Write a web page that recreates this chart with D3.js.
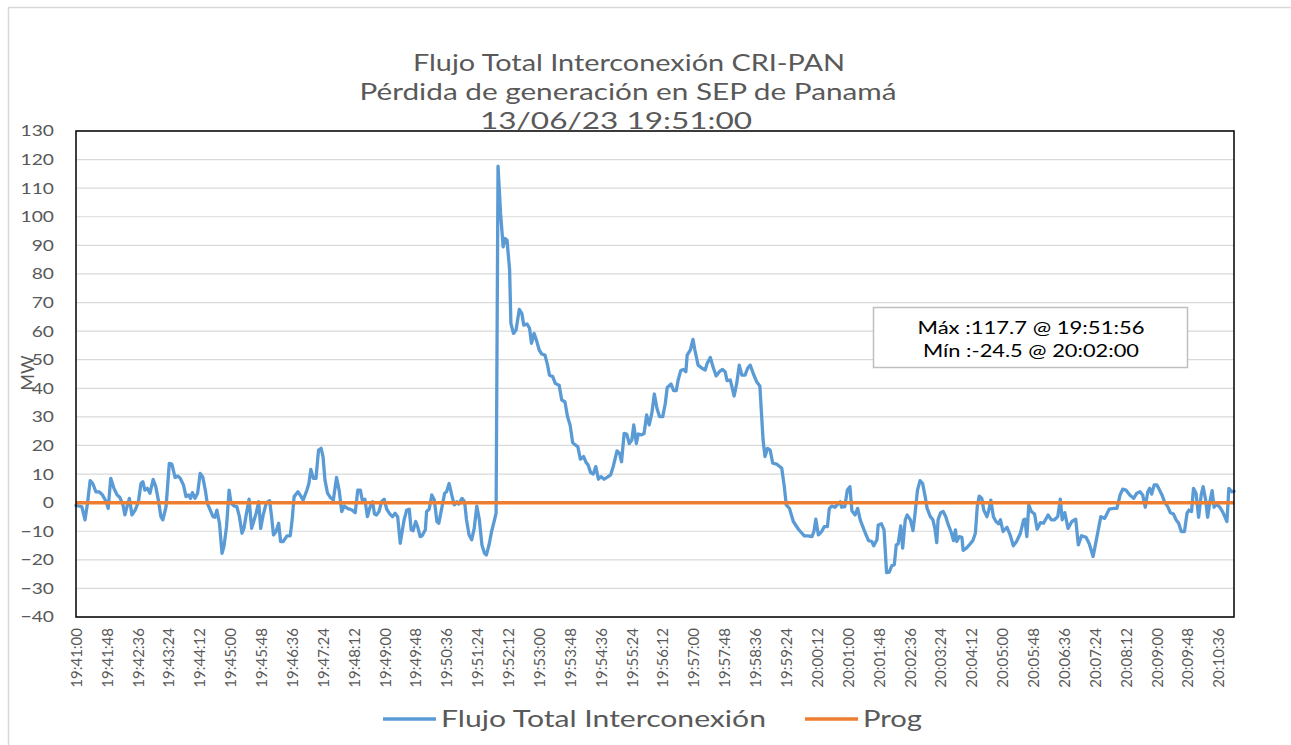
<!DOCTYPE html>
<html>
<head>
<meta charset="utf-8">
<script src="https://cdn.jsdelivr.net/npm/d3@7"></script>
<style>
  body { margin: 0; background: #fff; }
  svg { display: block; }
</style>
</head>
<body>
<div id="chart"></div>
<script>
// segundos transcurridos desde 19:41:00
const segundos = [
  0, 9, 14, 18, 22, 26, 31, 36, 41, 47, 50, 54, 59, 64, 68, 73, 76, 80, 83, 87,
  92, 97, 101, 104, 107, 111, 115, 120, 124, 128, 132, 135, 140, 145, 149, 154, 158, 162, 167, 171,
  175, 178, 181, 185, 189, 193, 197, 201, 204, 208, 213, 216, 219, 223, 227, 230, 234, 238, 241, 246,
  250, 254, 258, 261, 265, 269, 273, 277, 280, 284, 287, 291, 296, 301, 304, 307, 311, 315, 318, 322,
  328, 333, 336, 339, 345, 350, 353, 359, 362, 365, 369, 373, 377, 381, 384, 387, 391, 395, 400, 405,
  409, 413, 417, 422, 429, 434, 438, 442, 445, 449, 453, 457, 461, 464, 467, 471, 475, 479, 483, 488,
  492, 496, 500, 504, 507, 510, 514, 518, 521, 524, 528, 531, 535, 538, 543, 545, 549, 553, 557, 561,
  564, 569, 573, 576, 580, 584, 588, 592, 595, 600, 604, 607, 611, 615, 619, 623, 627, 631, 635, 638,
  642, 646, 650, 653, 656, 660, 664, 667, 670, 674, 676, 680, 684, 689, 693, 696, 701, 705, 708, 712,
  716, 720, 724, 729, 733, 736, 741, 745, 751, 755, 760, 764, 768, 772, 776, 780, 784, 789, 793, 796,
  800, 804, 808, 812, 816, 821, 826, 831, 835, 841, 845, 848, 852, 856, 860, 864, 867, 871, 874, 879,
  883, 887, 891, 895, 899, 903, 907, 912, 916, 919, 925, 929, 933, 936, 940, 944, 948, 950, 955, 959,
  962, 967, 973, 978, 981, 986, 990, 995, 1000, 1005, 1009, 1012, 1017, 1019, 1023, 1027, 1031, 1035, 1040, 1044,
  1048, 1053, 1058, 1063, 1068, 1071, 1075, 1079, 1083, 1089, 1097, 1101, 1104, 1109, 1115, 1123, 1126, 1132, 1138, 1144,
  1147, 1150, 1154, 1159, 1163, 1168, 1171, 1175, 1180, 1183, 1188, 1190, 1195, 1199, 1203, 1206, 1211, 1215, 1219, 1223,
  1227, 1232, 1237, 1240, 1245, 1247, 1252, 1256, 1260, 1264, 1268, 1272, 1275, 1278, 1282, 1285, 1289, 1292, 1297, 1301,
  1304, 1308, 1312, 1316, 1320, 1323, 1328, 1332, 1335, 1338, 1340, 1344, 1348, 1352, 1356, 1360, 1364, 1367, 1369, 1373,
  1377, 1379, 1384, 1390, 1394, 1398, 1401, 1404, 1408, 1411, 1416, 1419, 1422, 1426, 1430, 1434, 1437, 1441, 1447, 1452,
  1457, 1462, 1468, 1473, 1475, 1478, 1481, 1485, 1490, 1494, 1499, 1504, 1511, 1516, 1521, 1526, 1530, 1533, 1537, 1542,
  1548, 1554, 1558, 1563, 1570, 1575, 1581, 1587, 1593, 1599, 1606, 1613, 1618, 1623, 1627, 1632, 1638, 1644, 1649, 1654,
  1658, 1662, 1666, 1669, 1672, 1676, 1680, 1683, 1688, 1692, 1697, 1701, 1706, 1710, 1714, 1718, 1723, 1727, 1730, 1734,
  1737, 1741, 1745, 1749, 1752, 1756, 1759, 1763, 1766, 1769, 1773, 1778, 1783, 1789, 1792, 1797, 1800
];

// Flujo Total Interconexión (MW)
const flujo = [
  -1, -1.4, -6, 0, 7.7, 6.7, 3.8, 3.8, 2.7, 0.3, -2, 8.5, 5, 2.7, 1.9, -0.8, -4.3, -0.8, 1.5, -4.3,
  -2.6, 0.3, 6.7, 7.3, 4.4, 5, 3.3, 8.1, 5.6, 0.9, -4.9, -6, -1.4, 13.7, 13.5, 8.8, 9.3, 8.5, 6.2, 2.1,
  2.7, 1.5, 3.5, 1.5, 3.3, 10.2, 9, 4.4, -0.2, -2.3, -4.9, -5.1, -2.6, -7.2, -17.7, -15.3, -8.4, 4.4, -0.2, -1.2,
  -1.4, -4.9, -10.7, -9, -3.7, 1.2, -9, -6, -3.7, 0.3, -9, -4.3, 0, 0.7, -4.9, -11.3, -10.1, -7.2, -13.6, -13.6,
  -11.6, -11.6, -6, 2.1, 3.8, 2.1, 0.9, 4.4, 6.7, 11.6, 8.5, 8.5, 18.4, 19, 16, 7.9, 3.3, 1.9, 0.9, 8.8,
  4.4, -3.1, -1.2, -2, -2.6, -3.5, 4.4, 4.4, 0.9, 1.2, -4.9, -1.6, 0.3, -4, -4.3, -3.1, 0.3, 1.2, -2.3, -4,
  -4.9, -3.7, -4.9, -14.2, -10.1, -6, -2.6, -2.3, -9.5, -9.8, -6.6, -8.4, -11.9, -11.6, -9.5, -3.1, -2.3, 2.7, 0.9, -6.6,
  -7.2, -1.4, 3.3, 3.8, 6.7, 2.7, -0.8, 0.3, -0.5, 1.5, 0.3, -6, -11.3, -13, -9, -1.2, -6, -14.8, -17.7, -18.3,
  -14.8, -10.1, -6.5, -3.7, 117.7, 101, 89.5, 92.4, 91.8, 81.4, 62.7, 59.2, 60.4, 67.6, 66.2, 62.1, 62.5, 61, 55.7, 59.2,
  56.6, 53.4, 52, 51.6, 48.1, 44.6, 44.1, 41.7, 41.1, 35.9, 35.3, 30.1, 27.2, 21, 20.2, 19.6, 15.2, 16.1, 14, 13.2,
  10.5, 10, 12.6, 8.2, 9.1, 8.2, 8.9, 9.7, 12.6, 18.1, 17.2, 14.3, 24.2, 24, 20.7, 21.9, 27.2, 20.7, 24, 23.7,
  24.2, 30.7, 27.2, 31.2, 38, 33, 30.1, 30.1, 34.7, 40.3, 41.5, 39.2, 39.2, 42.9, 46.2, 46.6, 45.8, 51.6, 53.4, 57.1,
  53.4, 48.1, 47, 46.4, 48.7, 50.8, 47.6, 44.3, 45.8, 46.6, 45.8, 42.7, 42.9, 41.1, 37.3, 41.7, 48.1, 44.6, 44.6, 47,
  48.1, 45, 42.3, 40.8, 21.9, 16.1, 19, 18.4, 13.8, 13.5, 12, 5.6, -0.8, -2, -6.6, -9.3, -10.1, -11.6, -11.6, -11.9,
  -10.1, -5.8, -11.3, -10.1, -8.4, -8.4, -2, -1.2, -1.6, -0.8, 0.3, -1.6, -1.4, 4.4, 5.6, -2.8, -4.3, -2, -6, -8.4,
  -10.7, -13.3, -13.6, -15.1, -13, -7.8, -7.4, -9.5, -24.5, -24.3, -22.1, -21.7, -14.8, -14.4, -8.1, -15.9, -6, -4.3, -6, -9.8,
  -4.3, 4.4, 7.7, 6.7, 2.1, -2, -4.9, -6, -9, -14, -6, -3.5, -3.1, -4.9, -7.8, -10.1, -13.3, -9.5, -13.6, -11.9,
  -12.1, -16.7, -15.9, -14.4, -13.3, -10.7, -1.2, 2.3, 1.5, -2.6, -4.9, -2.6, 0.9, -4.9, -6.6, -7.4, -6, -10.1, -8.6, -11.3,
  -15.1, -13.6, -10.7, -6, -5.8, -11.9, -0.8, -3.1, -4, -9.3, -7, -7.2, -4.3, -6, -6, -4.9, 1.2, -6, -3.5, -9,
  -6.6, -5.8, -14.8, -11.6, -12.1, -14.4, -18.8, -11.9, -4.9, -5.5, -2.3, -2, -2, 2.7, 4.7, 4.4, 2.7, 1.5, 3.3, 3.8,
  2.7, -1.6, 3.8, 5, 3, 6.2, 6.2, 5, 2.7, 0.3, -1.4, -3.5, -4, -6, -7.2, -10.1, -10.1, -3.7, -2.6, -3.1,
  5, 3.3, -5.1, 2.7, 5.6, 0.9, -5.1, 0.9, 4.2, -1.6, -0.5, -1.6, -3.5, -6.6, 5, 3.8, 4
];

// Prog (MW), constante en todo el periodo
const progMW = 0;

const tickLabels = [
  '19:41:00', '19:41:48', '19:42:36', '19:43:24', '19:44:12', '19:45:00', '19:45:48', '19:46:36',
  '19:47:24', '19:48:12', '19:49:00', '19:49:48', '19:50:36', '19:51:24', '19:52:12', '19:53:00',
  '19:53:48', '19:54:36', '19:55:24', '19:56:12', '19:57:00', '19:57:48', '19:58:36', '19:59:24',
  '20:00:12', '20:01:00', '20:01:48', '20:02:36', '20:03:24', '20:04:12', '20:05:00', '20:05:48',
  '20:06:36', '20:07:24', '20:08:12', '20:09:00', '20:09:48', '20:10:36'
];
const tickStep = 48; // segundos entre etiquetas
const yTicks = [-40, -30, -20, -10, 0, 10, 20, 30, 40, 50, 60, 70, 80, 90, 100, 110, 120, 130];

const titleLines = ['Flujo Total Interconexión CRI-PAN', 'Pérdida de generación en SEP de Panamá', '13/06/23 19:51:00'];
const notaLines = ['Máx :117.7 @ 19:51:56', 'Mín :-24.5 @ 20:02:00'];

// el gráfico original está algo estirado en horizontal
const stretch = 1.24;

function draw() {
    const W = 1291, H = 745;
    const plot = { left: 76, top: 131, right: 1234, bottom: 617 };
    const gray = '#595959';

    const svg = d3.select('#chart').append('svg')
        .attr('width', W)
        .attr('height', H);

    svg.append('rect').attr('width', W).attr('height', H).attr('fill', '#fff');

    // marco exterior del gráfico
    svg.append('rect')
        .attr('x', 8.5).attr('y', 7.5)
        .attr('width', W + 20).attr('height', H + 20)
        .attr('fill', 'none')
        .attr('stroke', '#d9d9d9')
        .attr('stroke-width', 1.5);

    const x = d3.scaleLinear()
        .domain([0, 1800])
        .range([plot.left, plot.right]);

    const y = d3.scaleLinear()
        .domain([-40, 130])
        .range([plot.bottom, plot.top]);

    // titulo (centros y anchos medidos en el original)
    const titleCx = [629, 628, 616];
    const titleW = [432, 537, 272];
    svg.append('g').selectAll('text')
        .data(titleLines)
        .enter().append('text')
        .attr('x', (d, i) => titleCx[i])
        .attr('y', (d, i) => 71 + i * 29)
        .attr('text-anchor', 'middle')
        .attr('font-family', 'Lato, sans-serif')
        .attr('font-size', 24)
        .attr('fill', gray)
        .attr('textLength', (d, i) => titleW[i])
        .attr('lengthAdjust', 'spacingAndGlyphs')
        .text(d => d);

    // lineas de cuadricula
    svg.append('g')
        .selectAll('line')
        .data(yTicks)
        .enter().append('line')
        .attr('x1', plot.left).attr('x2', plot.right)
        .attr('y1', d => y(d)).attr('y2', d => y(d))
        .attr('stroke', '#d9d9d9')
        .attr('stroke-width', 1.2);

    // eje Y
    const yAxis = svg.append('g')
        .attr('transform', 'translate(54,0)')
        .call(d3.axisLeft(y).tickValues(yTicks).tickSize(0).tickPadding(0));
    yAxis.select('.domain').remove();
    yAxis.selectAll('text')
        .attr('font-family', 'Lato, sans-serif')
        .attr('font-size', 15.5)
        .attr('transform', `scale(${stretch},1)`)
        .attr('fill', gray);

    // titulo eje Y
    svg.append('text')
        .attr('transform', 'translate(28,373) rotate(-90)')
        .attr('text-anchor', 'middle')
        .attr('dy', '0.35em')
        .attr('font-family', 'Lato, sans-serif')
        .attr('font-size', 18)
        .attr('fill', gray)
        .text('MW');

    // eje X
    const xAxis = svg.append('g')
        .attr('transform', `translate(0,${plot.bottom})`)
        .call(d3.axisBottom(x)
            .tickValues(tickLabels.map((d, i) => i * tickStep))
            .tickFormat((d, i) => tickLabels[i])
            .tickSize(0));
    xAxis.select('.domain').remove();
    xAxis.selectAll('text')
        .attr('transform', 'rotate(-90)')
        .attr('text-anchor', 'end')
        .attr('x', -11)
        .attr('y', 0)
        .attr('dy', '0.35em')
        .attr('font-family', 'Lato, sans-serif')
        .attr('font-size', 15)
        .attr('fill', gray);

    const serie = segundos.map((t, i) => ({ t: t, v: flujo[i] }));

    const line = d3.line()
        .x(d => x(d.t))
        .y(d => y(d.v));

    svg.append('path')
        .datum(serie)
        .attr('fill', 'none')
        .attr('stroke', '#5B9BD5')
        .attr('stroke-width', 3.3)
        .attr('stroke-linejoin', 'round')
        .attr('stroke-linecap', 'round')
        .attr('d', line);

    svg.append('line')
        .attr('x1', x(0)).attr('x2', x(1800))
        .attr('y1', y(progMW)).attr('y2', y(progMW))
        .attr('stroke', '#ED7D31')
        .attr('stroke-width', 3.5);

    // borde del area de trazado
    svg.append('rect')
        .attr('x', plot.left).attr('y', plot.top)
        .attr('width', plot.right - plot.left)
        .attr('height', plot.bottom - plot.top)
        .attr('fill', 'none')
        .attr('stroke', '#000')
        .attr('stroke-width', 1.5);

    // cuadro de max / min
    svg.append('rect')
        .attr('x', 873.5).attr('y', 307.5)
        .attr('width', 314).attr('height', 60)
        .attr('fill', '#fff')
        .attr('stroke', '#bfbfbf')
        .attr('stroke-width', 1.5);
    const notaW = [227, 216];
    svg.append('g').selectAll('text')
        .data(notaLines)
        .enter().append('text')
        .attr('x', 1031)
        .attr('y', (d, i) => 334 + i * 23)
        .attr('text-anchor', 'middle')
        .attr('font-family', 'Lato, sans-serif')
        .attr('font-size', 17.5)
        .attr('fill', '#000')
        .attr('textLength', (d, i) => notaW[i])
        .attr('lengthAdjust', 'spacingAndGlyphs')
        .text(d => d);

    // leyenda
    const legend = [
        { name: 'Flujo Total Interconexión', color: '#5B9BD5', x: 383, w: 325 },
        { name: 'Prog', color: '#ED7D31', x: 805, w: 59 }
    ];
    const lg = svg.selectAll('.legend')
        .data(legend)
        .enter().append('g')
        .attr('class', 'legend')
        .attr('transform', d => `translate(${d.x},719)`);
    lg.append('line')
        .attr('x1', 0).attr('x2', 53)
        .attr('stroke', d => d.color)
        .attr('stroke-width', 3.5);
    lg.append('text')
        .attr('x', 58)
        .attr('dy', '0.35em')
        .attr('font-family', 'Lato, sans-serif')
        .attr('font-size', 24)
        .attr('fill', gray)
        .attr('textLength', d => d.w)
        .attr('lengthAdjust', 'spacingAndGlyphs')
        .text(d => d.name);
}

window.onload = draw;
</script>
</body>
</html>
